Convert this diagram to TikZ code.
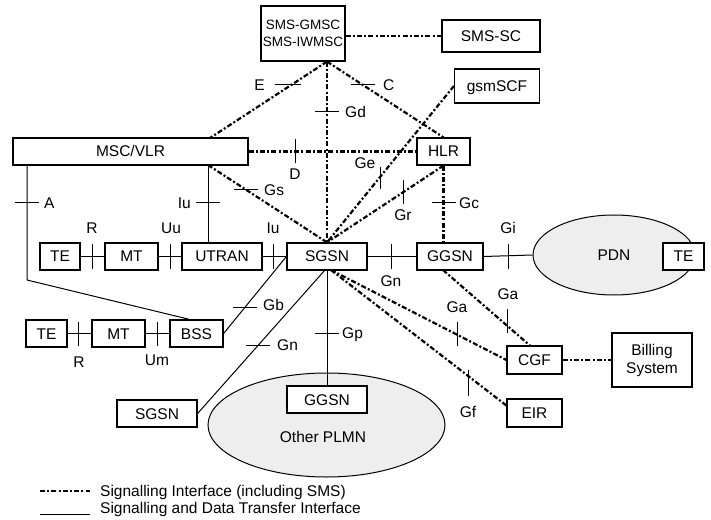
\documentclass[tikz,border=0pt]{standalone}
\usepackage{fontspec}
\setmainfont{Liberation Sans}
\usetikzlibrary{calc,shapes.geometric}
\definecolor{cloud}{RGB}{238,238,238}
\begin{document}
\begin{tikzpicture}[x=1bp,y=-1bp,
  font=\fontsize{15.5bp}{18bp}\selectfont,
  box/.style={draw, line width=1.2bp, fill=white, inner sep=0pt, text height=11bp, text depth=0pt},
  mbox/.style={draw, line width=1.2bp, fill=white, inner sep=0pt, align=center},
  sig/.style={line width=2.2bp, dash pattern=on 5bp off 2.2bp on 2bp off 2.2bp},
  dat/.style={line width=1bp},
  tck/.style={line width=1bp},
  lab/.style={inner sep=0pt, text height=11bp, text depth=0pt},
  cloudshape/.style={draw, ellipse, fill=cloud, line width=1bp, inner sep=0pt}]
\useasboundingbox (0,0) rectangle (711,520);

% clouds
\node[cloudshape, minimum width=162bp, minimum height=80bp, text height=11bp, text depth=0pt] (pdn) at (614,255) {PDN};
\node[cloudshape, minimum width=237bp, minimum height=104bp] (plmn) at (326.5,425) {};
\node[lab] (plmnlab) at (323,437) {Other PLMN};

% boxes
\node[mbox, minimum width=84bp, minimum height=55bp, font=\fontsize{13.5bp}{17bp}\selectfont] (gmsc) at (303,33.5) {SMS-GMSC\\SMS-IWMSC};
\node[box, minimum width=98bp, minimum height=32bp] (smssc) at (491,36) {SMS-SC};
\node[box, minimum width=85bp, minimum height=34bp] (gsmscf) at (497,86) {gsmSCF};
\node[box, minimum width=235bp, minimum height=27bp] (msc) at (130.5,151.5) {MSC/VLR};
\node[box, minimum width=53bp, minimum height=27bp] (hlr) at (443.5,151.5) {HLR};
\node[box, minimum width=40bp, minimum height=27bp] (te1) at (60,256.5) {TE};
\node[box, minimum width=53bp, minimum height=27bp] (mt1) at (131.5,256.5) {MT};
\node[box, minimum width=80bp, minimum height=27bp] (utran) at (222,256.5) {UTRAN};
\node[box, minimum width=80bp, minimum height=27bp] (sgsn) at (327,256.5) {SGSN};
\node[box, minimum width=66bp, minimum height=27bp] (ggsn) at (450,256.5) {GGSN};
\node[box, minimum width=41bp, minimum height=27bp] (te2) at (683.5,256.5) {TE};
\node[box, minimum width=41bp, minimum height=27bp] (te3) at (46.5,333.5) {TE};
\node[box, minimum width=53bp, minimum height=27bp] (mt2) at (118.5,333.5) {MT};
\node[box, minimum width=53bp, minimum height=27bp] (bss) at (196.5,333.5) {BSS};
\node[box, minimum width=80bp, minimum height=27bp] (sgsn2) at (157,413.5) {SGSN};
\node[box, minimum width=80bp, minimum height=27bp] (ggsn2) at (327,399.5) {GGSN};
\node[box, minimum width=55bp, minimum height=28bp] (cgf) at (534.5,360) {CGF};
\node[mbox, minimum width=80bp, minimum height=54bp] (billing) at (652,360) {Billing\\System};
\node[box, minimum width=55bp, minimum height=28bp] (eir) at (534.5,413) {EIR};

% helper points on borders
\coordinate (gtop) at (gmsc.south -| sgsn.north);
\coordinate (mscE) at (210,138);
\coordinate (mscS) at (208,165);
\coordinate (mscA) at (27,165);
\coordinate (bend) at (27,280);
\coordinate (bssT) at (192,320);
\coordinate (sgb) at (331,270);
\coordinate (sgb2) at (325,270);
\coordinate (ggb) at (443,270);
\coordinate (cgft) at (530.5,346);
\coordinate (eirw) at (507,406);

% signalling connectors
\draw[sig] (gmsc.east |- smssc.west) -- (smssc.west);
\draw[sig] (gtop) -- (sgsn.north);
\draw[sig] (gtop) -- (mscE);
\draw[sig] (gtop) -- (hlr.north);
\draw[sig] (msc.east) -- (hlr.west);
\draw[sig] (mscS) -- (sgsn.north);
\draw[sig] (gsmscf.west) -- (sgsn.north);
\draw[sig] (hlr.south) -- (sgsn.north);
\draw[sig] (hlr.south) -- (hlr.south |- ggsn.north);
\draw[sig] (sgb) -- (cgf.west);
\draw[sig] (sgb) -- (eirw);
\draw[sig] (ggb) -- (cgft);
\draw[sig] (cgf.east) -- (billing.west);

% data connectors
\draw[dat] (te1) -- (mt1);
\draw[dat] (mt1) -- (utran);
\draw[dat] (utran) -- (sgsn);
\draw[dat] (sgsn) -- (ggsn);
\draw[dat] (ggsn.east) -- (pdn.west);
\draw[dat] (te3) -- (mt2);
\draw[dat] (mt2) -- (bss);
\draw[dat] (mscA) -- (bend) -- (bssT);
\draw[dat] (mscS) -- (mscS |- utran.north);
\draw[dat] (bss.east) -- (sgsn.west);
\draw[dat] (sgsn2.east) -- (sgb2);
\draw[dat] (sgsn.south) -- (ggsn2.north);

% ticks
\draw[tck] (92,244.5) -- (92,268.5);
\draw[tck] (170,244.5) -- (170,268.5);
\draw[tck] (273,244.5) -- (273,268.5);
\draw[tck] (391,244.5) -- (391,268.5);
\draw[tck] (508,244.5) -- (508,268.5);
\draw[tck] (78,321.5) -- (78,345.5);
\draw[tck] (157,321.5) -- (157,345.5);
\draw[tck] (15,203) -- (39,203);
\draw[tck] (196,203) -- (220,203);
\draw[tck] (234,190) -- (258,190);
\draw[tck] (295,139.5) -- (295,163.5);
\draw[tck] (315,112) -- (339,112);
\draw[tck] (275,85) -- (301,85);
\draw[tck] (351,85) -- (375,85);
\draw[tck] (380,167) -- (380,189);
\draw[tck] (403,180) -- (403,204);
\draw[tck] (431.5,203) -- (455.5,203);
\draw[tck] (233,307) -- (257,307);
\draw[tck] (246,345) -- (270,345);
\draw[tck] (315,333) -- (339,333);
\draw[tck] (457,322) -- (457,346);
\draw[tck] (507,309) -- (507,333);
\draw[tck] (468,370) -- (468,396);

% interface labels
\node[lab] (lR1) at (92,228) {R};
\node[lab] (lUu) at (171,228) {Uu};
\node[lab] (lIu1) at (273,228) {Iu};
\node[lab] (lGi) at (508,228) {Gi};
\node[lab] (lGn1) at (391,281) {Gn};
\node[lab] (lR2) at (79,362) {R};
\node[lab] (lUm) at (157,360) {Um};
\node[lab, anchor=west] (lA) at (44,203) {A};
\node[lab, anchor=east] (lIu2) at (191,203) {Iu};
\node[lab, anchor=west] (lGs) at (264,190) {Gs};
\node[lab] (lD) at (295,174) {D};
\node[lab, anchor=west] (lGd) at (345,112) {Gd};
\node[lab, anchor=east] (lE) at (265,85) {E};
\node[lab, anchor=west] (lC) at (383,85) {C};
\node[lab] (lGe) at (365,163) {Ge};
\node[lab] (lGr) at (403,215) {Gr};
\node[lab, anchor=west] (lGc) at (459,203) {Gc};
\node[lab, anchor=west] (lGb) at (263,305) {Gb};
\node[lab, anchor=west] (lGn2) at (277,345) {Gn};
\node[lab, anchor=west] (lGp) at (342,333) {Gp};
\node[lab] (lGa1) at (457,307) {Ga};
\node[lab] (lGa2) at (508,294) {Ga};
\node[lab] (lGf) at (468,412) {Gf};

% legend
\coordinate (lg1a) at (40,491);
\coordinate (lg1b) at (90,491);
\coordinate (lg2a) at (40,514);
\coordinate (lg2b) at (90,514);
\draw[sig] (lg1a) -- (lg1b);
\draw[dat] (lg2a) -- (lg2b);
\node[lab, anchor=west] (leg1) at (100,491) {Signalling Interface (including SMS)};
\node[lab, anchor=west] (leg2) at (100,508) {Signalling and Data Transfer Interface};
\end{tikzpicture}
\end{document}
